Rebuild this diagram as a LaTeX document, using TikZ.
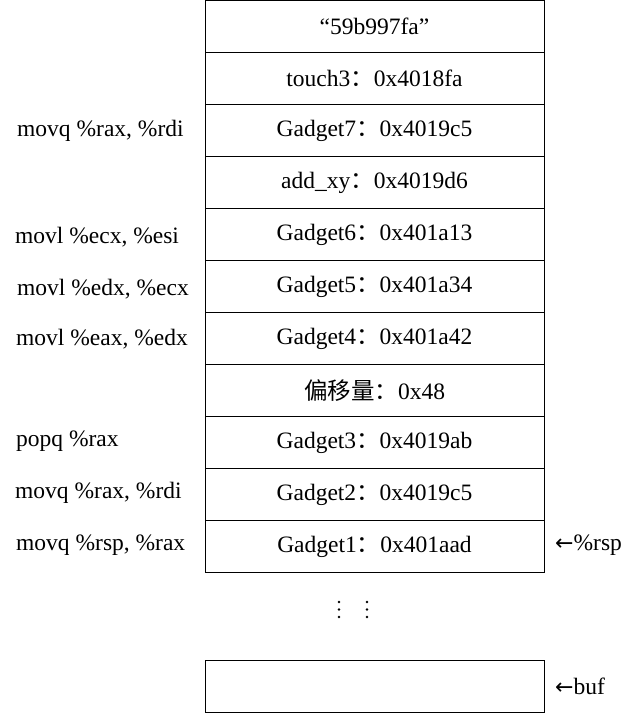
\documentclass[tikz,border=0pt]{standalone}
\usepackage{fontspec}
\setmainfont{Liberation Serif}
\newfontfamily\cjk{Noto Sans CJK SC}
\newfontfamily\arrowfont{DejaVu Sans}
\begin{document}
\begin{tikzpicture}[x=1pt,y=1pt,
  cell/.style={draw, line width=1pt, minimum width=339pt, minimum height=52pt, inner sep=0pt, font=\fontsize{23.5}{26}\selectfont},
  lbl/.style={anchor=west, inner sep=0pt, font=\fontsize{23.5}{26}\selectfont},
  dot/.style={fill, circle, inner sep=0pt, minimum size=2.6pt}]
\useasboundingbox (0,0) rectangle (642,-715);
\def\cx{374.5}
\node[cell] (r0)  at (\cx,-26.5)  {“59b997fa”};
\node[cell] (r1)  at (\cx,-78.5)  {touch3{\cjk：}0x4018fa};
\node[cell] (r2)  at (\cx,-130.5) {Gadget7{\cjk：}0x4019c5};
\node[cell] (r3)  at (\cx,-182.5) {add\_xy{\cjk：}0x4019d6};
\node[cell] (r4)  at (\cx,-234.5) {Gadget6{\cjk：}0x401a13};
\node[cell] (r5)  at (\cx,-286.5) {Gadget5{\cjk：}0x401a34};
\node[cell] (r6)  at (\cx,-338.5) {Gadget4{\cjk：}0x401a42};
\node[cell] (r7)  at (\cx,-390.5) {{\cjk 偏移量：}0x48};
\node[cell] (r8)  at (\cx,-442.5) {Gadget3{\cjk：}0x4019ab};
\node[cell] (r9)  at (\cx,-494.5) {Gadget2{\cjk：}0x4019c5};
\node[cell] (r10) at (\cx,-546.5) {Gadget1{\cjk：}0x401aad};
\node[cell] (rb)  at (\cx,-686)   {};
\foreach \x/\n in {339/a,367/b}{
  \node[dot] (d\n1) at (\x,-602) {};
  \node[dot] (d\n2) at (\x,-609.5) {};
  \node[dot] (d\n3) at (\x,-617) {};
}
\node[lbl] (l2)  at (17,-131) {movq \%rax, \%rdi};
\node[lbl] (l4)  at (15,-237) {movl \%ecx, \%esi};
\node[lbl] (l5)  at (17,-289) {movl \%edx, \%ecx};
\node[lbl] (l6)  at (16,-339) {movl \%eax, \%edx};
\node[lbl] (l8)  at (16,-441) {popq \%rax};
\node[lbl] (l9)  at (15,-493) {movq \%rax, \%rdi};
\node[lbl] (l10) at (16,-545) {movq \%rsp, \%rax};
\node[lbl] (rsp) at (555,-545) {{\arrowfont\fontsize{22}{24}\selectfont ←}\%rsp};
\node[lbl] (buf) at (555,-686) {{\arrowfont\fontsize{22}{24}\selectfont ←}buf};
\end{tikzpicture}
\end{document}
